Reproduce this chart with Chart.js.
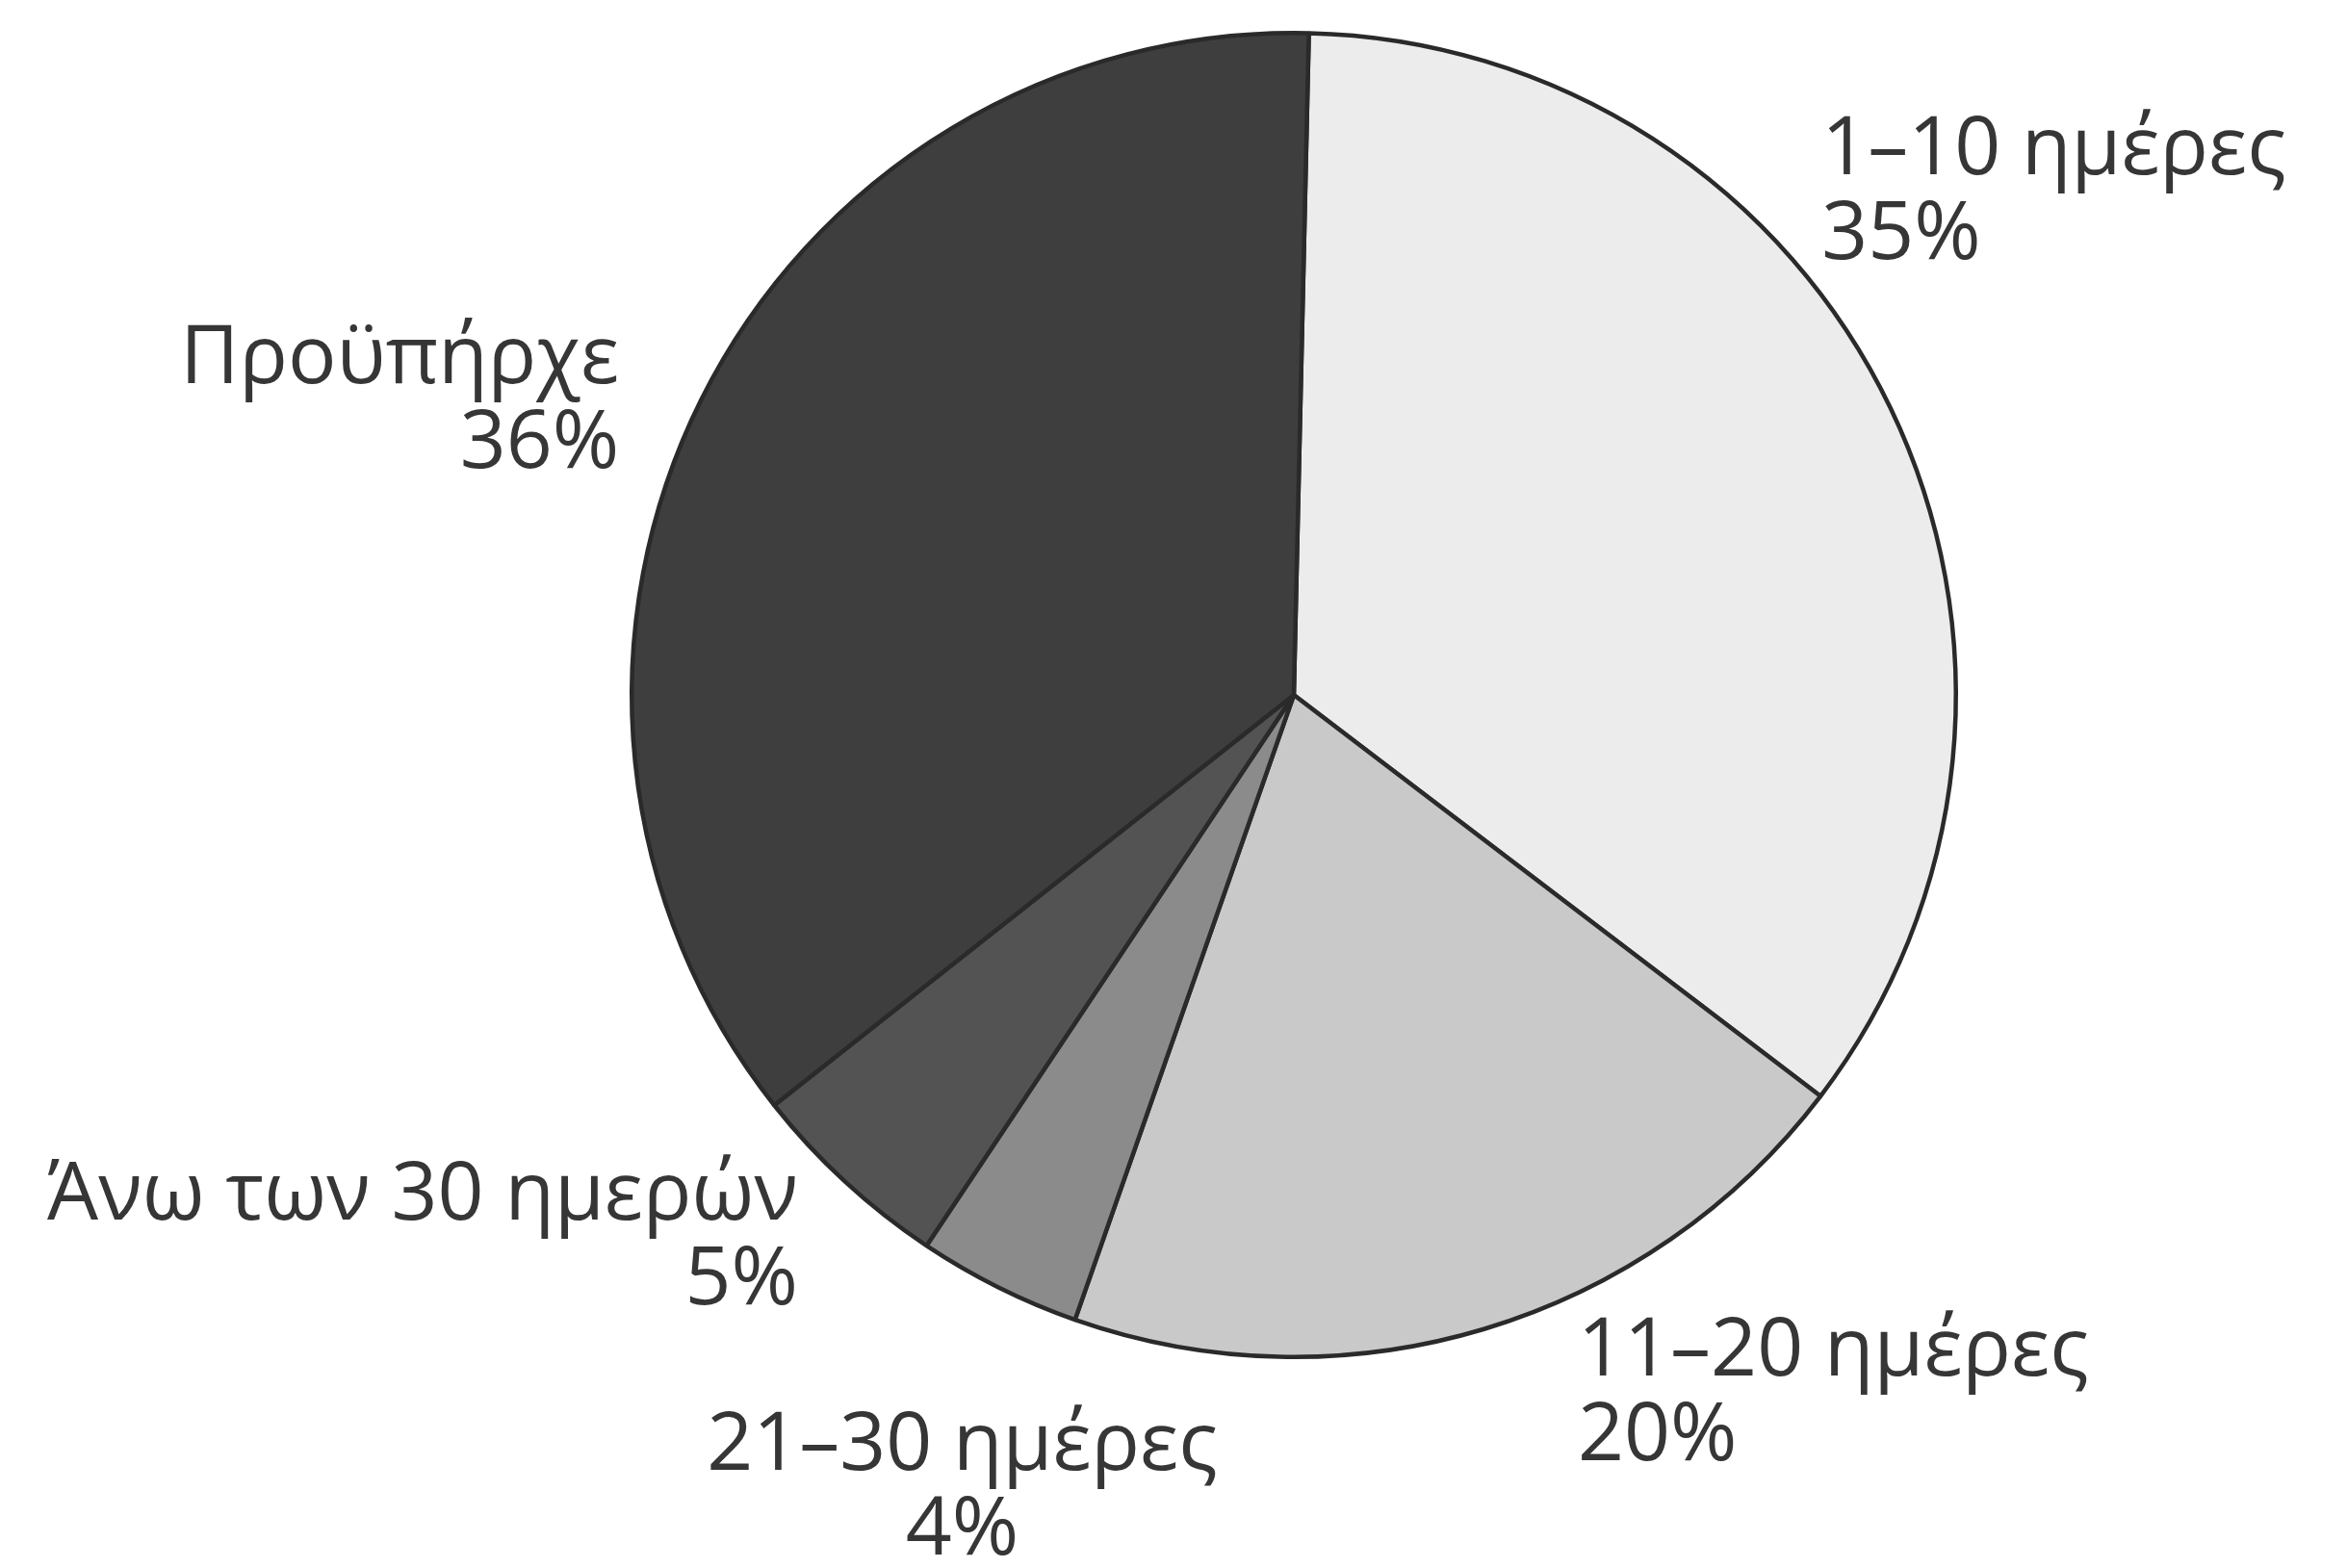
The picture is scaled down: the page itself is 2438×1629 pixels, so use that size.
<!DOCTYPE html>
<html>
<head>
<meta charset="utf-8">
<script src="https://cdn.jsdelivr.net/npm/chart.js@4/dist/chart.umd.min.js"></script>
<style>
html,body{margin:0;padding:0;background:#fff;}
#wrap{width:2438px;height:1629px;position:relative;}
</style>
</head>
<body>
<div id="wrap"><canvas id="c" width="2438" height="1629"></canvas></div>
<script>
const categories = ["1–10 ημέρες", "11–20 ημέρες", "21–30 ημέρες", "Άνω των 30 ημερών", "Προϋπήρχε"];
const values = [35, 20, 4, 5, 36];
const valueLabels = ["35%", "20%", "4%", "5%", "36%"];

const sliceColors = ["#ececec", "#c9c9c9", "#8b8b8b", "#535353", "#3e3e3e"];
// label anchors in units of outer radius, relative to pie centre
const labelAnchors = [
  {dx: 0.797, dy: -0.822, align: "left"},
  {dx: 0.429, dy: 0.993, align: "left"},
  {dx: -0.501, dy: 1.135, align: "center"},
  {dx: -0.749, dy: 0.757, align: "right"},
  {dx: -1.019, dy: -0.506, align: "right"}
];

const labelPlugin = {
  id: "outerLabels",
  afterDatasetsDraw(chart) {
    const ctx = chart.ctx;
    const meta = chart.getDatasetMeta(0);
    ctx.save();
    ctx.fillStyle = "#363636";
    ctx.font = "84px 'Open Sans', 'Noto Sans', sans-serif";
    ctx.textBaseline = "middle";
    meta.data.forEach((arc, i) => {
      const p = arc.getProps(["x", "y", "outerRadius"], true);
      const a = labelAnchors[i];
      const x = p.x + a.dx * p.outerRadius;
      const y = p.y + a.dy * p.outerRadius;
      ctx.textAlign = a.align;
      ctx.fillText(categories[i], x, y);
      ctx.fillText(valueLabels[i], x, y + 88);
    });
    ctx.restore();
  }
};

new Chart(document.getElementById("c"), {
  type: "pie",
  data: {
    labels: categories,
    datasets: [{
      data: values,
      backgroundColor: sliceColors,
      borderColor: "#2a2a2a",
      borderWidth: 4.5
    }]
  },
  options: {
    responsive: false,
    animation: false,
    rotation: 1.3,
    layout: {padding: {left: 654, right: 404, top: 32, bottom: 217}},
    plugins: {legend: {display: false}, tooltip: {enabled: false}}
  },
  plugins: [labelPlugin]
});
</script>
</body>
</html>
